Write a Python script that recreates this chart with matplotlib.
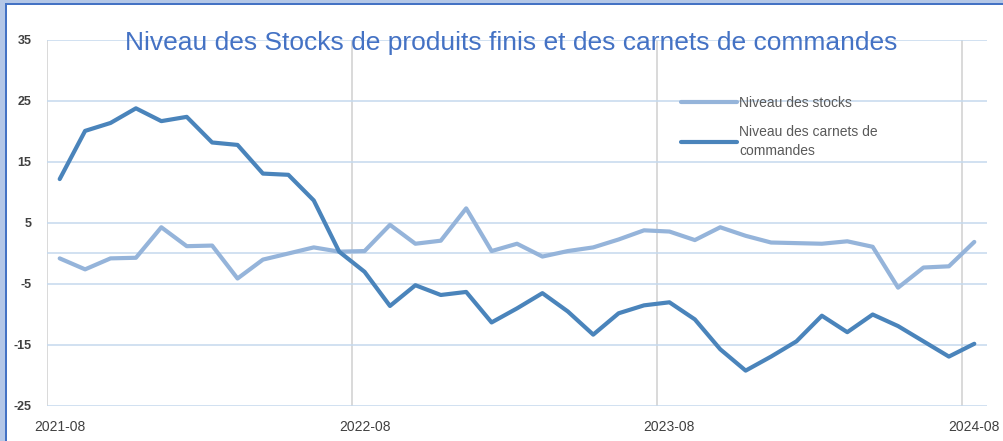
import numpy as np
import matplotlib.pyplot as plt
import pandas as pd
from matplotlib.patches import Rectangle

plt.rcParams['font.family'] = ['Liberation Sans', 'DejaVu Sans']
plt.rcParams['axes.unicode_minus'] = False

months = list(pd.period_range('2021-08', '2024-08', freq='M').strftime('%Y-%m'))
stocks = [-0.8, -2.6, -0.8, -0.7, 4.3, 1.2, 1.3, -4.1, -1.0, 0.0, 1.0, 0.3, 0.4,
          4.7, 1.6, 2.1, 7.4, 0.4, 1.6, -0.5, 0.4, 1.0, 2.3, 3.8, 3.6,
          2.2, 4.3, 2.9, 1.8, 1.7, 1.6, 2.0, 1.1, -5.6, -2.3, -2.1, 1.9]
carnets = [12.2, 20.1, 21.4, 23.8, 21.7, 22.4, 18.2, 17.8, 13.1, 12.9, 8.7, 0.3, -3.0,
           -8.6, -5.2, -6.8, -6.3, -11.3, -9.0, -6.5, -9.5, -13.3, -9.8, -8.5, -8.0,
           -10.8, -15.7, -19.2, -16.9, -14.4, -10.2, -12.9, -10.0, -11.9, -14.4, -16.9, -14.8]
yticks = [-25, -15, -5, 5, 15, 25, 35]
label_every = 12

W, H = 1004, 441
fig = plt.figure(figsize=(W / 100, H / 100), dpi=100)
fig.patch.set_facecolor('#b4c7e7')
# cadre bleu (bord haut et gauche seulement, l'image est rognée ailleurs)
fig.add_artist(Rectangle((5 / W, -0.1), 1.2, (H - 3) / H + 0.1, transform=fig.transFigure,
                         facecolor='#4472c4', edgecolor='none', zorder=-3))
fig.add_artist(Rectangle((7 / W, -0.1), 1.2, (H - 5) / H + 0.1, transform=fig.transFigure,
                         facecolor='white', edgecolor='none', zorder=-2))

ax = fig.add_axes([47 / W, 1 - 406 / H, 940 / W, 366 / H])
ax.set_facecolor('none')
x = np.arange(len(months))
ax.plot(x, stocks, color='#95b4da', lw=3, solid_capstyle='round', solid_joinstyle='round',
        label='Niveau des stocks', zorder=3)
ax.plot(x, carnets, color='#4a84bb', lw=3, solid_capstyle='round', solid_joinstyle='round',
        label='Niveau des carnets de\ncommandes', zorder=4)

ax.set_xlim(-0.5, len(months) - 0.5)
ax.set_ylim(-25, 35)
ax.set_yticks(yticks)
ax.set_xticks(x[::label_every], [months[i] for i in x[::label_every]])
ax.set_xticks(np.arange(-0.5, len(months) - 0.5, label_every), minor=True)
ax.set_axisbelow(True)
ax.yaxis.grid(True, color='#c5d9ee', lw=1.1)
ax.xaxis.grid(True, which='minor', color='#d9d9d9', lw=1.4)
ax.axhline(0, color='#c5d9ee', lw=1.1, zorder=1)
for s in ax.spines.values():
    s.set_visible(False)
ax.tick_params(axis='both', which='both', length=0)
ax.tick_params(axis='y', pad=11, labelsize=9, labelcolor='#404040')
ax.tick_params(axis='x', pad=10, labelsize=10, labelcolor='#404040')
for t in ax.get_yticklabels():
    t.set_fontweight('bold')

fig.text(511 / W, 1 - 50 / H, 'Niveau des Stocks de produits finis et des carnets de commandes',
         ha='center', va='baseline', fontsize=19, color='#4472c4')

leg = ax.legend(loc='upper left', bbox_to_anchor=(681 / W, 1 - 96 / H), bbox_transform=fig.transFigure,
                frameon=False, fontsize=10, handlelength=4, handletextpad=0.2, labelspacing=1.1,
                borderaxespad=0, borderpad=0, labelcolor='#595959')
for t in leg.get_texts():
    t.set_linespacing(1.45)

fig.savefig('out.png', dpi=100)
